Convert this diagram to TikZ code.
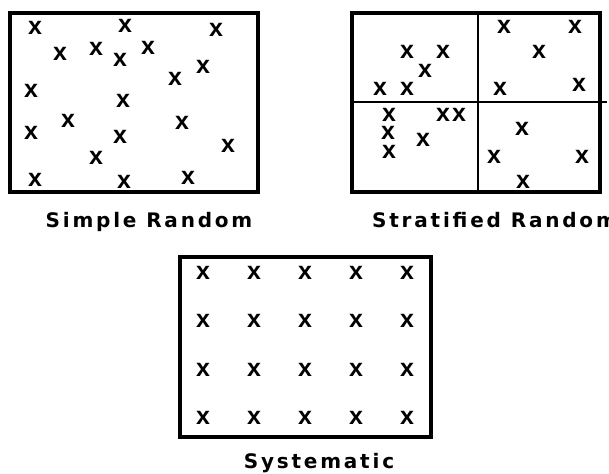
\documentclass[tikz,border=0pt]{standalone}
\usepackage{fontspec}
\newfontfamily\labelfont[LetterSpace=14]{DejaVu Sans}
\newfontfamily\markfont{Liberation Sans}
\usepackage{tikz}

\begin{document}
\begin{tikzpicture}[x=1pt,y=-1pt,
  frame/.style={line width=4.5pt},
  divider/.style={line width=1.6pt},
  xmark/.style={inner sep=0pt,font=\markfont\bfseries\fontsize{25}{25}\selectfont},
  caption/.style={inner sep=0pt,font=\labelfont\bfseries\fontsize{20}{20}\selectfont}]
  \useasboundingbox (0,0) rectangle (609,473);

  % simple random
  \draw[frame] (10,13) rectangle (258,192);
  \foreach \px/\py [count=\i] in {35/28,125/26,216/30,60/54,96/49,120/60,148/48,
      203/67,175/79,31/91,123/101,68/121,182/123,31/133,120/137,228/146,
      96/158,35/180,124/182,188/178}
    \node[xmark] (sr\i) at (\px,\py) {x};
  \node[caption,anchor=base] (srlabel) at (149,227) {Simple Random};

  % stratified random
  \draw[frame] (352,13) rectangle (600,192);
  \draw[divider] (478,13) -- (478,192);
  \draw[divider] (352,102) -- (607,102);
  \foreach \px/\py [count=\i] in {407/52,443/52,425/71,380/89,407/89,
      504/27,575/27,539/52,500/89,579/85,
      389/115,443/115,459/115,388/133,423/140,389/152,
      522/129,494/157,582/157,523/182}
    \node[xmark] (st\i) at (\px,\py) {x};
  \node[caption,anchor=base west] (stlabel) at (372,227) {Stratified Random};

  % systematic
  \draw[frame] (180,257) rectangle (431,437);
  \foreach \r in {0,...,3}
    \foreach \c in {0,...,4}
      \node[xmark] (sy\r\c) at (203+51*\c,273+48.3*\r) {x};
  \node[caption,anchor=base] (sylabel) at (319,468) {Systematic};
\end{tikzpicture}
\end{document}
